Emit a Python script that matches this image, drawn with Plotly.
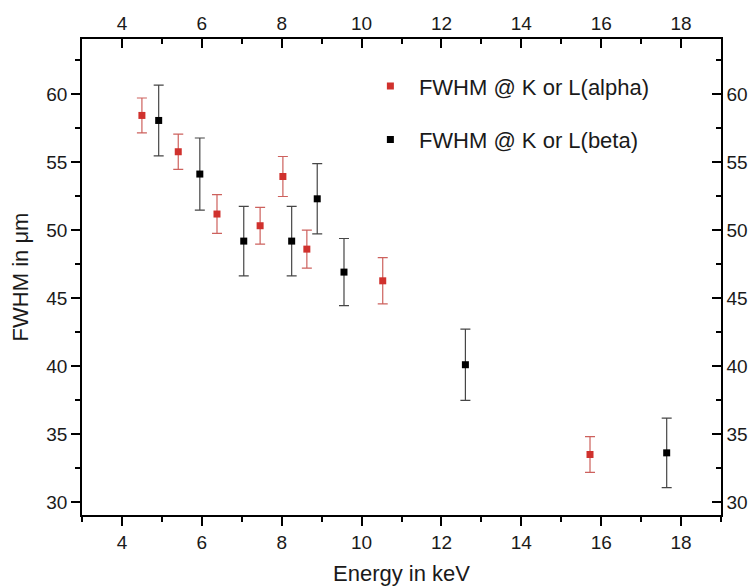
import plotly.graph_objects as go

# Data
alpha_energy = [4.50, 5.41, 6.38, 7.46, 8.03, 8.63, 10.53, 15.72]
alpha_fwhm = [58.43, 55.76, 51.18, 50.32, 53.94, 48.60, 46.27, 33.50]
alpha_err = [1.28, 1.30, 1.42, 1.35, 1.47, 1.40, 1.70, 1.32]

beta_energy = [4.92, 5.95, 7.05, 8.25, 8.89, 9.56, 12.60, 17.64]
beta_fwhm = [58.06, 54.12, 49.19, 49.19, 52.30, 46.91, 40.10, 33.62]
beta_err = [2.60, 2.65, 2.56, 2.55, 2.58, 2.47, 2.62, 2.56]

x_range = [3, 19]
y_range = [29.05, 64.05]
x_ticks = [4, 6, 8, 10, 12, 14, 16, 18]
y_ticks = [30, 35, 40, 45, 50, 55, 60]

FONT = "Liberation Sans, Arial, sans-serif"
TXT = "#1a1a1a"

fig = go.Figure()
fig.add_trace(go.Scatter(
    x=alpha_energy, y=alpha_fwhm, mode="markers",
    name="FWHM @ K or L(alpha)", legendgroup="a",
    marker=dict(symbol="square", size=7, color="#d0312d"),
    error_y=dict(type="data", array=alpha_err, visible=True,
                 color="rgba(200,80,75,0.9)", thickness=1.2, width=5),
))
fig.add_trace(go.Scatter(
    x=beta_energy, y=beta_fwhm, mode="markers",
    name="FWHM @ K or L(beta)", legendgroup="b",
    marker=dict(symbol="square", size=7, color="#000000"),
    error_y=dict(type="data", array=beta_err, visible=True,
                 color="rgba(50,50,50,0.9)", thickness=1.2, width=5),
))
# invisible trace to activate secondary axes
fig.add_trace(go.Scatter(x=[None], y=[None], xaxis="x2", yaxis="y2",
                         showlegend=False, hoverinfo="skip"))

axis_common = dict(
    showgrid=False, zeroline=False, showline=True, linecolor="black",
    linewidth=1.5, tickcolor="black", tickwidth=1.5, ticklen=9,
    automargin=False,
    tickfont=dict(family=FONT, size=19, color=TXT),
)
minor_common = dict(ticklen=5, tickcolor="black", tickwidth=1.5)

fig.update_layout(
    width=755, height=586,
    margin=dict(l=82, r=34, t=39, b=71),
    paper_bgcolor="white", plot_bgcolor="white",
    font=dict(family=FONT, color=TXT),
    xaxis=dict(range=x_range, tickvals=x_ticks, ticks="outside",
               minor=dict(dtick=1, ticks="outside", **minor_common),
               title=dict(text="Energy in keV", font=dict(family=FONT, size=22, color=TXT), standoff=14),
               **axis_common),
    yaxis=dict(range=y_range, tickvals=y_ticks, ticks="outside",
               minor=dict(dtick=2.5, tick0=0, ticks="outside", **minor_common),
               title=dict(text="FWHM in μm", font=dict(family=FONT, size=22, color=TXT), standoff=12),
               **axis_common),
    xaxis2=dict(range=x_range, tickvals=x_ticks, ticks="inside", side="top",
                overlaying="x", anchor="y",
                minor=dict(dtick=1, ticks="inside", **minor_common),
                **axis_common),
    yaxis2=dict(range=y_range, tickvals=y_ticks, ticks="inside", side="right",
                overlaying="y", anchor="x",
                minor=dict(dtick=2.5, tick0=0, ticks="inside", **minor_common),
                **axis_common),
    legend=dict(x=0.438, y=0.945, xanchor="left", yanchor="top",
                bgcolor="rgba(0,0,0,0)", font=dict(family=FONT, size=22, color=TXT),
                tracegroupgap=22, itemwidth=47),
    showlegend=True,
)

fig.write_html("out.html",
               config={"displayModeBar": False},
               post_script="document.body.style.margin='0px';document.body.style.overflow='hidden';")
